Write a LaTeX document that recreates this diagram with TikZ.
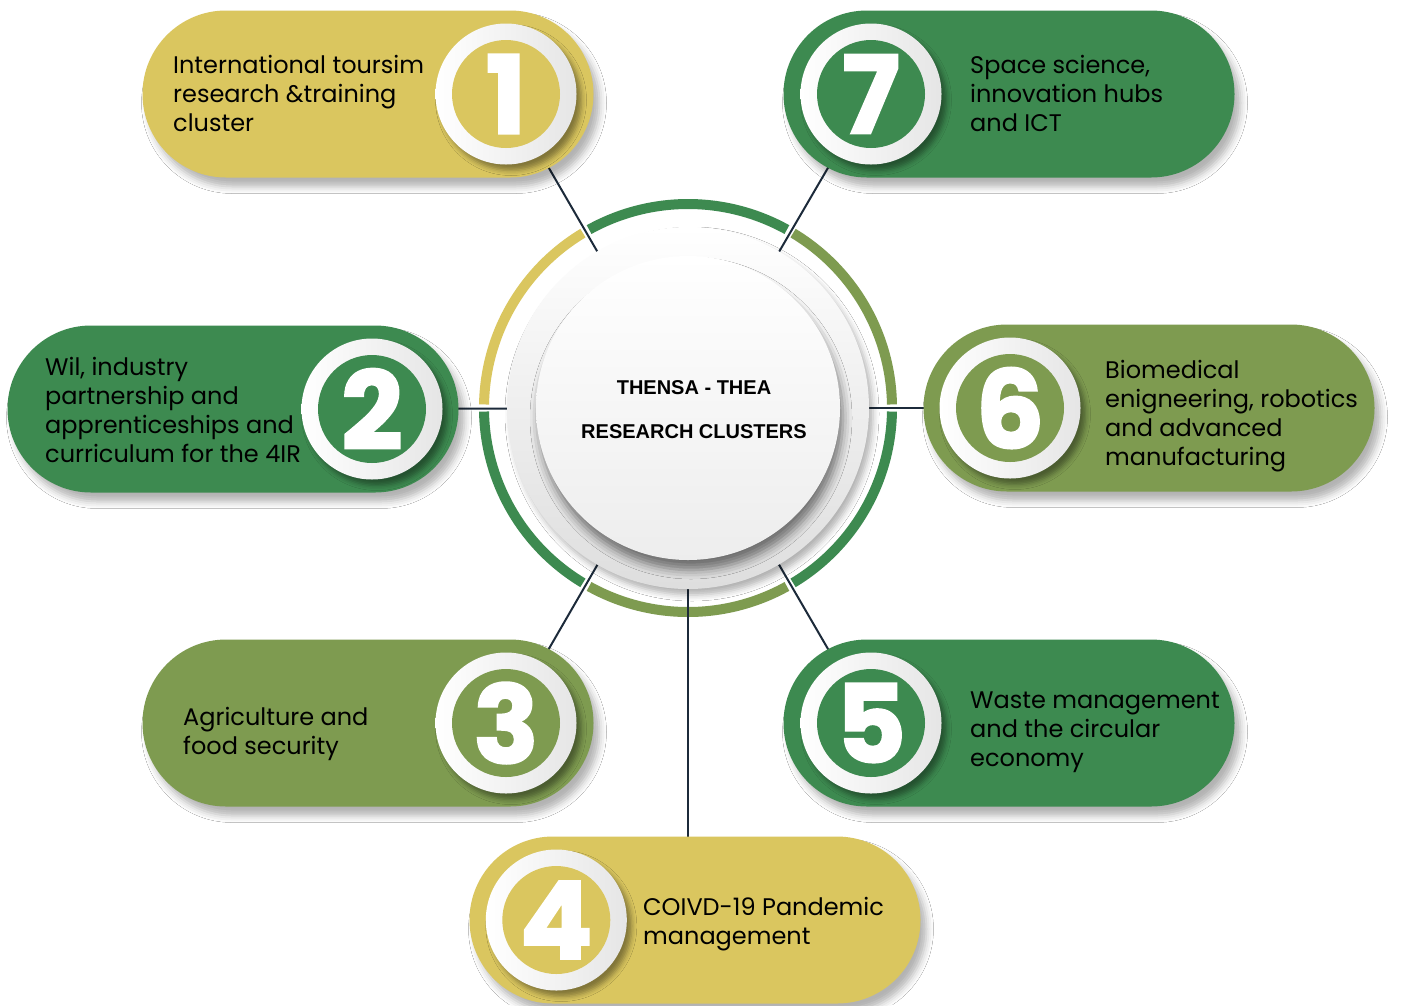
\documentclass[tikz,border=0pt]{standalone}
\usepackage{fontspec}
\setmainfont{Poppins}
\newfontfamily\headfont{Liberation Sans}
\newfontfamily\numfont{Poppins}[FakeBold=2]
\usetikzlibrary{shadows.blur, positioning}
\definecolor{clyellow}{RGB}{218, 198, 95}
\definecolor{clgreen}{RGB}{61, 138, 80}
\definecolor{clolive}{RGB}{126, 155, 80}
\definecolor{linknavy}{RGB}{28, 42, 58}
\newcommand\bodysize{\fontsize{24}{29}\selectfont}
\newcommand\lead{\rule{0pt}{20pt}}

\begin{document}
\begin{tikzpicture}[x=1pt, y=-1pt,
  pill/.style={rounded corners=83.5pt, minimum width=451pt, minimum height=167pt, inner sep=0pt,
    blur shadow={shadow xshift=6pt, shadow yshift=-9pt, shadow blur radius=7pt, shadow opacity=30}},
  ring/.style={circle, minimum size=141pt, inner sep=0pt, shading angle=45,
    left color=white, right color=black!10,
    blur shadow={shadow xshift=5pt, shadow yshift=-6pt, shadow blur radius=5pt, shadow opacity=40}},
  badge/.style={circle, minimum size=108pt, inner sep=0pt, text=white,
    font=\numfont\bfseries\fontsize{108}{108}\selectfont},
  cltext/.style={anchor=north west, inner sep=0pt, align=left, font=\bodysize},
  link/.style={linknavy, line width=2pt},
  arcseg/.style={line width=10pt}]
  \fill[white] (0, 0) rectangle (1407, 1005);
  \useasboundingbox (0, 0) rectangle (1407, 1005);

  % badge centres and hub centre
  \coordinate (hubc) at (688, 408);
  \coordinate (k1) at (506, 94);
  \coordinate (k7) at (871, 94);
  \coordinate (k2) at (372, 409);
  \coordinate (k6) at (1010, 408);
  \coordinate (k3) at (506, 723);
  \coordinate (k5) at (871, 723);
  \coordinate (k4) at (688, 837);

  % ring around the hub
  \begin{scope}[shift={(hubc)}, x=1pt, y=1pt]
    \draw[arcseg, clgreen] (61:204) arc[start angle=61, end angle=119, radius=204];
    \draw[arcseg, clyellow] (121:204) arc[start angle=121, end angle=179, radius=204];
    \draw[arcseg, clgreen] (181:204) arc[start angle=181, end angle=239, radius=204];
    \draw[arcseg, clolive] (241:204) arc[start angle=241, end angle=299, radius=204];
    \draw[arcseg, clgreen] (301:204) arc[start angle=301, end angle=359, radius=204];
    \draw[arcseg, clolive] (1:204) arc[start angle=1, end angle=59, radius=204];
  \end{scope}

  % connectors
  \foreach \k in {k1, k2, k3, k4, k5, k6, k7}
    \draw[link] (\k) -- (hubc);

  % cluster pills
  \node[pill, fill=clyellow] (p1) at (368, 94) {};
  \node[pill, fill=clgreen] (p7) at (1009, 94) {};
  \node[pill, fill=clgreen] (p2) at (233, 409) {};
  \node[pill, fill=clolive] (p6) at (1149, 408) {};
  \node[pill, fill=clolive] (p3) at (368, 723) {};
  \node[pill, fill=clgreen] (p5) at (1009, 723) {};
  \node[pill, fill=clyellow] (p4) at (695, 920) {};

  % number badges
  \node[ring] (b1) at (k1) {};
  \node[badge, fill=clyellow] at (b1) {1};
  \node[ring] (b7) at (k7) {};
  \node[badge, fill=clgreen] at (b7) {7};
  \node[ring] (b2) at (k2) {};
  \node[badge, fill=clgreen] at (b2) {2};
  \node[ring] (b6) at (k6) {};
  \node[badge, fill=clolive] at (b6) {6};
  \node[ring] (b3) at (k3) {};
  \node[badge, fill=clolive] at (b3) {3};
  \node[ring] (b5) at (k5) {};
  \node[badge, fill=clgreen] at (b5) {5};
  \node[ring] (b4) at ([xshift=87pt]p4.west) {};
  \node[badge, fill=clyellow] at (b4) {4};

  % cluster names
  \node[cltext] (t1) at (173, 53) {\lead International toursim\\research \&training\\cluster};
  \node[cltext] (t7) at (970, 53) {\lead Space science,\\innovation hubs\\and ICT};
  \node[cltext] (t2) at (45, 355) {\lead Wil, industry\\partnership and\\apprenticeships and\\curriculum for the 4IR};
  \node[cltext] (t6) at (1105, 358) {\lead Biomedical\\enigneering, robotics\\and advanced\\manufacturing};
  \node[cltext] (t3) at (183, 705) {\lead Agriculture and\\food security};
  \node[cltext] (t5) at (970, 688) {\lead Waste management\\and the circular\\economy};
  \node[cltext] (t4) at (643, 895) {\lead COIVD-19 Pandemic\\management};

  % hub
  \node[circle, minimum size=362pt, inner sep=0pt, shading angle=30, top color=white, bottom color=black!13,
    blur shadow={shadow xshift=4pt, shadow yshift=-6pt, shadow blur radius=6pt, shadow opacity=30}] (hub) at (hubc) {};
  \node[circle, minimum size=304pt, inner sep=0pt, top color=white, bottom color=black!7,
    blur shadow={shadow xshift=3pt, shadow yshift=-10pt, shadow blur radius=9pt, shadow opacity=50}] (core) at (hub) {};
  \node[anchor=north, inner sep=0pt, align=center, font=\headfont\bfseries\fontsize{20}{44}\selectfont]
    (title) at (694, 374) {\lead THENSA - THEA\\RESEARCH CLUSTERS};
\end{tikzpicture}
\end{document}
